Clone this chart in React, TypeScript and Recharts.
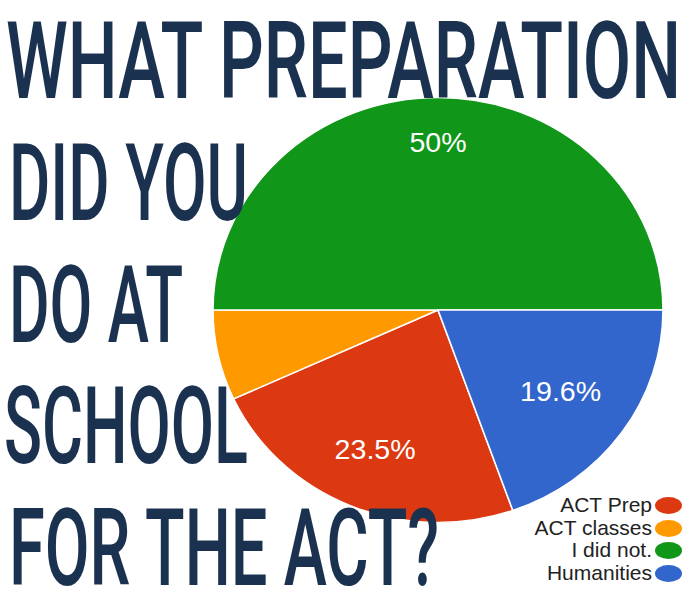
import React from "react"
import { PieChart, Pie, Cell } from "recharts"

// survey answers (n = 102)
const categories = ["ACT Prep", "ACT classes", "I did not.", "Humanities"]
const responses = [24, 7, 51, 20]
const sliceColors = ["#dc3912", "#ff9900", "#109618", "#3366cc"]
const titleLines = ["WHAT PREPARATION", "DID YOU", "DO AT", "SCHOOL", "FOR THE ACT?"]

const total = responses.reduce((a, b) => a + b, 0)
const pieData = categories.map((name, i) => ({ name, value: responses[i] }))

// last slice ends at 3 o'clock, slices go clockwise
const startAngle = -(responses[responses.length - 1] / total) * 360
const endAngle = startAngle - 360

const RAD = Math.PI / 180
const OUTER = 212.5
const LABEL_SIZE = 27

const charW: Record<string, number> = { "%": 0.889, ".": 0.278 }
const textWidth = (s: string, size: number) =>
  s.split("").reduce((w, c) => w + (charW[c] ?? 0.556), 0) * size

const fmtPct = (p: number) => `${parseFloat((p * 100).toFixed(1))}%`

function SliceLabel(props: any) {
  const { cx, cy, midAngle, percent } = props
  if (percent < 0.1) return null
  const text = fmtPct(percent)
  const dx = Math.cos(-midAngle * RAD)
  const dy = Math.sin(-midAngle * RAD)
  const w = textWidth(text, LABEL_SIZE) / 2
  const h = 11
  const cxo = (dx < -0.01 ? -1 : 1) * w
  const cyo = (dy < 0 ? -1 : 1) * h
  const R = OUTER * 0.847
  const dc = dx * cxo + dy * cyo
  const t = -dc + Math.sqrt(dc * dc - (cxo * cxo + cyo * cyo) + R * R)
  return (
    <text
      x={cx + t * dx}
      y={cy + t * dy}
      fill="#ffffff"
      fontSize={LABEL_SIZE}
      fontFamily="Arial, 'Liberation Sans', sans-serif"
      textAnchor="middle"
      dominantBaseline="central"
    >
      {text}
    </text>
  )
}

const titleLayout = [
  { x: 6, y: 98, w: 675 },
  { x: 9, y: 220, w: 239 },
  { x: 9, y: 342, w: 174 },
  { x: 4, y: 463, w: 244 },
  { x: 9, y: 585, w: 430 },
]

export default function App() {
  return (
    <div style={{ position: "absolute", left: 0, top: 0, width: 689, height: 591, background: "#fff", overflow: "hidden" }}>
      <div
        style={{
          position: "absolute",
          left: 208,
          top: 80,
          width: 460,
          height: 460,
          transform: "scaleX(1.0588)",
          transformOrigin: "center",
        }}
      >
        <PieChart width={460} height={460} margin={{ top: 0, right: 0, bottom: 0, left: 0 }}>
          <Pie
            data={pieData}
            dataKey="value"
            nameKey="name"
            cx={230}
            cy={230}
            outerRadius={OUTER}
            startAngle={startAngle}
            endAngle={endAngle}
            stroke="#ffffff"
            strokeWidth={1.5}
            label={SliceLabel}
            labelLine={false}
            isAnimationActive={false}
          >
            {pieData.map((d, i) => (
              <Cell key={d.name} fill={sliceColors[i]} />
            ))}
          </Pie>
        </PieChart>
      </div>

      <svg width={689} height={591} style={{ position: "absolute", left: 0, top: 0 }}>
        {titleLines.map((line, i) => (
          <text
            key={line}
            x={titleLayout[i].x}
            y={titleLayout[i].y}
            textLength={titleLayout[i].w}
            lengthAdjust="spacingAndGlyphs"
            fontFamily="Roboto, 'DejaVu Sans Condensed', sans-serif"
            fontWeight={500}
            fontSize={108}
            fill="#1a314f"
          >
            {line}
          </text>
        ))}
      </svg>

      <div
        style={{
          position: "absolute",
          right: 7,
          top: 494,
          fontFamily: "Arial, 'Liberation Sans', sans-serif",
          fontSize: 21,
          color: "#222",
        }}
      >
        {categories.map((c, i) => (
          <div key={c} style={{ display: "flex", justifyContent: "flex-end", alignItems: "center", height: 22.7, lineHeight: "22.7px" }}>
            <span>{c}</span>
            <span
              style={{
                display: "inline-block",
                width: 27,
                height: 17,
                borderRadius: "50%",
                background: sliceColors[i],
                marginLeft: 3,
              }}
            />
          </div>
        ))}
      </div>
    </div>
  )
}
